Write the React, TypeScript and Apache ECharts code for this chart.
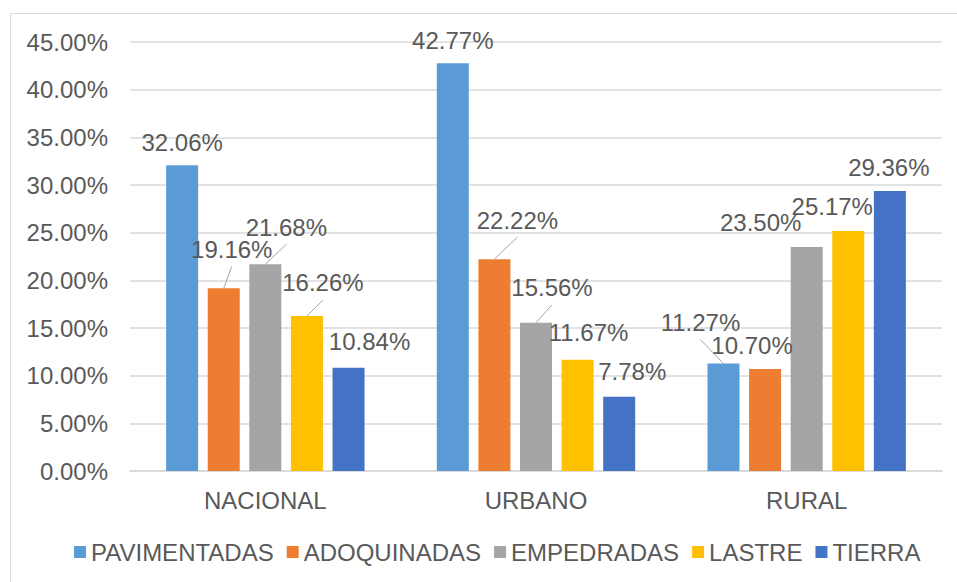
import React, { useEffect, useRef } from "react";
import * as echarts from "echarts";

const CATEGORIES = ["NACIONAL", "URBANO", "RURAL"];
const SERIES_NAMES = ["PAVIMENTADAS", "ADOQUINADAS", "EMPEDRADAS", "LASTRE", "TIERRA"];
const PAVIMENTADAS = [32.06, 42.77, 11.27];
const ADOQUINADAS = [19.16, 22.22, 10.7];
const EMPEDRADAS = [21.68, 15.56, 23.5];
const LASTRE = [16.26, 11.67, 25.17];
const TIERRA = [10.84, 7.78, 29.36];
const VALUES = [PAVIMENTADAS, ADOQUINADAS, EMPEDRADAS, LASTRE, TIERRA];
const COLORS = ["#5B9BD5", "#ED7D31", "#A5A5A5", "#FFC000", "#4472C4"];

// label displacement (layout/style), per series, per category
const LABEL_DX = [
  [0, 0, -23],
  [8, 23, -13],
  [21, 16, -46],
  [16, 11, -16],
  [21, 13, -1],
];
const LABEL_DY = [
  [0, 0, -18],
  [-16, -16, 0],
  [-14, -12, -1],
  [-10, -4, -2],
  [-3, -2, -1],
];
// [seriesIndex, categoryIndex] of labels with a leader line
const LEADERS = [
  [1, 0],
  [2, 0],
  [3, 0],
  [1, 1],
  [2, 1],
  [0, 2],
];

const BAR_W = 32;
const GAP_RATIO = 0.3;
const FONT = "'Liberation Sans', Arial, sans-serif";
const TEXT = "#595959";

export default function App() {
  const ref = useRef<HTMLDivElement>(null);
  useEffect(() => {
    document.body.style.margin = "0";
    const chart = echarts.init(ref.current!, null, { renderer: "svg" });
    const barSeries = VALUES.map((vals, s) => ({
      name: SERIES_NAMES[s],
      type: "bar",
      data: vals,
      barWidth: BAR_W,
      barGap: GAP_RATIO * 100 + "%",
      itemStyle: { color: COLORS[s] },
      z: 2,
      label: {
        show: true,
        position: "top",
        distance: 11,
        color: TEXT,
        fontSize: 24,
        fontFamily: FONT,
        formatter: (p: any) => p.value.toFixed(2) + "%",
      },
      labelLayout: (p: any) => ({
        dx: LABEL_DX[s][p.dataIndex],
        dy: LABEL_DY[s][p.dataIndex],
      }),
    }));
    const leaderSeries = {
      type: "custom",
      z: 3,
      silent: true,
      encode: { x: 0, y: 1 },
      data: LEADERS.map(([s, c]) => [c, VALUES[s][c], s]),
      renderItem: (params: any, api: any) => {
        const c = api.value(0);
        const v = api.value(1);
        const s = api.value(2);
        const pt = api.coord([c, v]);
        const x = pt[0] + (s - 2) * BAR_W * (1 + GAP_RATIO);
        const dx = LABEL_DX[s][c];
        const dy = LABEL_DY[s][c];
        return {
          type: "line",
          shape: { x1: x, y1: pt[1], x2: x + dx, y2: pt[1] - 6 + dy },
          style: { stroke: "#A6A6A6", lineWidth: 1 },
        };
      },
    };
    chart.setOption({
      animation: false,
      backgroundColor: "#FFFFFF",
      graphic: [
        {
          type: "rect",
          shape: { x: 10.5, y: 13.5, width: 1000, height: 1000 },
          style: { fill: "none", stroke: "#D9D9D9", lineWidth: 1 },
          silent: true,
        },
      ],
      grid: { left: 130, right: 15, top: 42, bottom: 111, containLabel: false },
      legend: {
        data: SERIES_NAMES,
        left: 69,
        top: 535,
        itemWidth: 12,
        itemHeight: 12,
        itemGap: 13,
        icon: "rect",
        textStyle: { color: TEXT, fontSize: 24, fontFamily: FONT },
      },
      xAxis: {
        type: "category",
        data: CATEGORIES,
        axisLine: { lineStyle: { color: "#D9D9D9", width: 1.5 } },
        axisTick: { show: false },
        axisLabel: { color: TEXT, fontSize: 24, fontFamily: FONT, margin: 17 },
      },
      yAxis: {
        type: "value",
        min: 0,
        max: 45,
        interval: 5,
        axisLine: { show: false },
        axisTick: { show: false },
        splitLine: { lineStyle: { color: "#D9D9D9", width: 1.5 } },
        axisLabel: {
          color: TEXT,
          fontSize: 24,
          fontFamily: FONT,
          margin: 22,
          formatter: (v: number) => v.toFixed(2) + "%",
        },
      },
      series: [...barSeries, leaderSeries],
    });
    return () => chart.dispose();
  }, []);
  return <div ref={ref} style={{ width: 957, height: 582 }} />;
}
